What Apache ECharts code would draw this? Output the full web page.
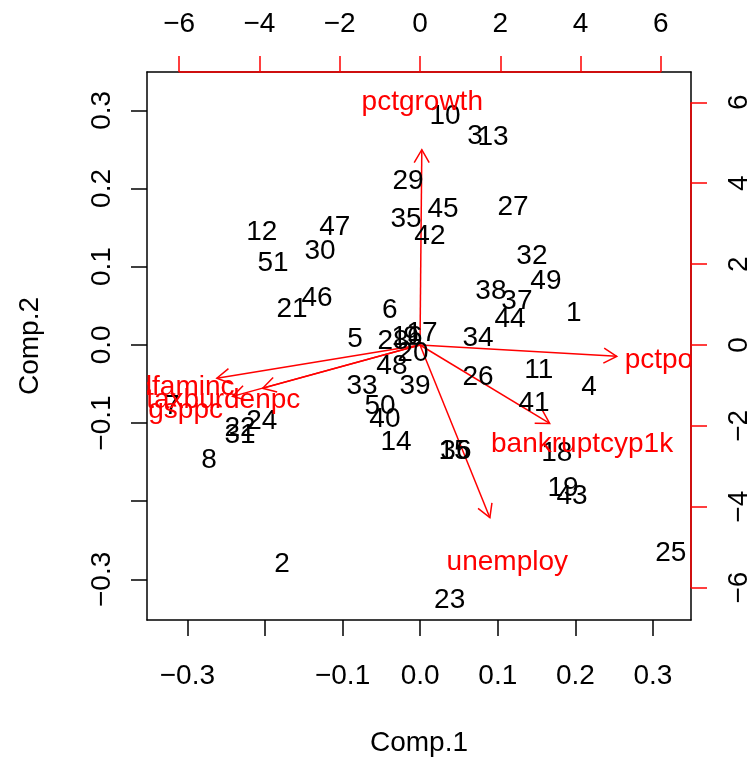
<!DOCTYPE html>
<html><head><meta charset="utf-8">
<script src="https://cdn.jsdelivr.net/npm/echarts@6/dist/echarts.min.js"></script>
<style>html,body{margin:0;padding:0;background:#fff}#c{width:753px;height:757px}</style>
</head><body><div id="c"></div>
<script>
// Observation (state) labels and their scores
const obsLabels = ['1','2','3','4','5','6','7','8','9','10','11','12','13','14','15','16','17','18','19','20','21','22','23','24','25','26','27','28','29','30','31','32','33','34','35','36','37','38','39','40','41','42','43','44','45','46','47','48','49','50','51'];
const comp1 = [0.198,-0.178,0.0706,0.2175,-0.084,-0.039,-0.320,-0.272,-0.0119,0.032,0.153,-0.204,0.0938,-0.031,0.0436,-0.017,0.0023,0.176,0.184,-0.0093,-0.165,-0.232,0.038,-0.204,0.323,0.0745,0.1196,-0.035,-0.0157,-0.129,-0.232,0.144,-0.075,0.0745,-0.0183,0.0461,0.1247,0.0912,-0.0067,-0.0454,0.1467,0.0126,0.1956,0.1157,0.0294,-0.133,-0.110,-0.0364,0.162,-0.0518,-0.1897];
const comp2 = [0.041,-0.279,0.268,-0.0527,0.0087,0.0458,-0.077,-0.147,0.0113,0.294,-0.031,0.1455,0.267,-0.124,-0.1355,0.0113,0.0164,-0.138,-0.182,-0.0092,0.047,-0.105,-0.326,-0.096,-0.265,-0.040,0.1775,0.0061,0.211,0.121,-0.114,0.115,-0.0512,0.010,0.162,-0.1355,0.0573,0.070,-0.0512,-0.0936,-0.0731,0.1404,-0.192,0.0343,0.175,0.0611,0.152,-0.0259,0.0829,-0.077,0.1059];
// Variable loadings (arrow tips, secondary scale)
const varNames = ['pctgrowth','pctpov','bankruptcyp1k','unemploy','medfaminc','taxburdenpc','gsppc'];
const loadX = [0.045,4.90,3.23,1.74,-5.06,-3.92,-4.67];
const loadY = [4.83,-0.28,-1.94,-4.27,-0.82,-1.07,-1.27];
// Axis ticks
const primaryTicks = [-0.3,-0.2,-0.1,0,0.1,0.2,0.3];
const primaryLabels = [-0.3,-0.1,0,0.1,0.2,0.3];
const secondaryTicks = [-6,-4,-2,0,2,4,6];
const primaryRange = [-0.352,0.349];
const secondaryRange = [-6.80,6.75];

const FONT = '"Liberation Sans", Arial, Helvetica, sans-serif';
const FS = 28;
const RED = '#FF0000';
const fmtP = v => (v < -1e-9 ? '\u2212' : '') + Math.abs(v).toFixed(1);
const fmtS = v => (v < 0 ? '\u2212' : '') + Math.abs(v);

const obsData = comp1.map((x, i) => [x, comp2[i], obsLabels[i]]);
const arrowData = loadX.map((x, i) => [x, loadY[i], varNames[i]]);
const varLabelData = loadX.map((x, i) => [x / 0.8, loadY[i] / 0.8, varNames[i]]);

const chart = echarts.init(document.getElementById('c'), null, {renderer: 'canvas'});

function textItem(color) {
  return function (params, api) {
    const p = api.coord([api.value(0), api.value(1)]);
    return {
      type: 'text', x: p[0], y: p[1] + 1,
      style: {
        text: api.value(2), fill: color,
        font: FS + 'px ' + FONT,
        align: 'center', verticalAlign: 'middle',
        textAlign: 'center', textVerticalAlign: 'middle'
      }
    };
  };
}

function arrowItem(params, api) {
  const o = api.coord([0, 0]);
  const t = api.coord([api.value(0), api.value(1)]);
  const ang = Math.atan2(t[1] - o[1], t[0] - o[0]);
  const L = 15, a = Math.PI / 6;
  const h1 = [t[0] - L * Math.cos(ang - a), t[1] - L * Math.sin(ang - a)];
  const h2 = [t[0] - L * Math.cos(ang + a), t[1] - L * Math.sin(ang + a)];
  const st = {stroke: RED, lineWidth: 1.5, fill: null};
  return {
    type: 'group', children: [
      {type: 'line', shape: {x1: o[0], y1: o[1], x2: t[0], y2: t[1]}, style: st},
      {type: 'polyline', shape: {points: [h1, t, h2]}, style: st}
    ]
  };
}

// red axis-line segments for secondary axes (span first..last tick)
function secAxisLines(params, api) {
  const cs = params.coordSys;
  const a = api.coord([secondaryTicks[0], secondaryTicks[0]]);
  const b = api.coord([secondaryTicks[secondaryTicks.length - 1], secondaryTicks[secondaryTicks.length - 1]]);
  const st = {stroke: RED, lineWidth: 1.5};
  return {
    type: 'group', children: [
      {type: 'line', shape: {x1: a[0], y1: cs.y, x2: b[0], y2: cs.y}, style: st},
      {type: 'line', shape: {x1: cs.x + cs.width, y1: a[1], x2: cs.x + cs.width, y2: b[1]}, style: st}
    ]
  };
}

const txt = {color: '#000', fontSize: FS, fontFamily: FONT};

chart.setOption({
  animation: false,
  backgroundColor: '#fff',
  grid: {left: 147, top: 72, width: 544, height: 548, containLabel: false, outerBoundsMode: 'none'},
  xAxis: [
    {
      type: 'value', position: 'bottom', min: primaryRange[0], max: primaryRange[1],
      splitLine: {show: false},
      axisLine: {show: true, onZero: false, lineStyle: {color: '#000', width: 1.5}},
      axisTick: {show: true, customValues: primaryTicks, length: 16, lineStyle: {color: '#000', width: 1.5}},
      axisLabel: Object.assign({customValues: primaryLabels, formatter: fmtP, margin: 42, hideOverlap: false}, txt),
      name: 'Comp.1', nameLocation: 'middle', nameGap: 109,
      nameTextStyle: txt
    },
    {
      type: 'value', position: 'top', min: secondaryRange[0], max: secondaryRange[1],
      splitLine: {show: false},
      axisLine: {show: true, onZero: false, lineStyle: {color: '#000', width: 1.5}},
      axisTick: {show: true, customValues: secondaryTicks, length: 16, lineStyle: {color: RED, width: 1.5}},
      axisLabel: Object.assign({customValues: secondaryTicks, formatter: fmtS, margin: 34, hideOverlap: false}, txt)
    }
  ],
  yAxis: [
    {
      type: 'value', position: 'left', min: primaryRange[0], max: primaryRange[1],
      splitLine: {show: false},
      axisLine: {show: true, onZero: false, lineStyle: {color: '#000', width: 1.5}},
      axisTick: {show: true, customValues: primaryTicks, length: 16, lineStyle: {color: '#000', width: 1.5}},
      axisLabel: Object.assign({customValues: primaryLabels, formatter: fmtP, margin: 31, rotate: 90, hideOverlap: false}, txt),
      name: 'Comp.2', nameLocation: 'middle', nameGap: 103,
      nameTextStyle: txt
    },
    {
      type: 'value', position: 'right', min: secondaryRange[0], max: secondaryRange[1],
      splitLine: {show: false},
      axisLine: {show: true, onZero: false, lineStyle: {color: '#000', width: 1.5}},
      axisTick: {show: true, customValues: secondaryTicks, length: 16, lineStyle: {color: RED, width: 1.5}},
      axisLabel: Object.assign({customValues: secondaryTicks, formatter: fmtS, margin: 34, rotate: 90, hideOverlap: false}, txt)
    }
  ],
  series: [
    {type: 'custom', name: 'scores', xAxisIndex: 0, yAxisIndex: 0, clip: true, data: obsData, renderItem: textItem('#000'), z: 3},
    {type: 'custom', name: 'arrows', xAxisIndex: 1, yAxisIndex: 1, clip: true, data: arrowData, renderItem: arrowItem, z: 2},
    {type: 'custom', name: 'varlabels', xAxisIndex: 1, yAxisIndex: 1, clip: true, data: varLabelData, renderItem: textItem(RED), z: 4},
    {type: 'custom', name: 'secaxis', xAxisIndex: 1, yAxisIndex: 1, clip: false, data: [[0, 0]], renderItem: secAxisLines, z: 5, silent: true}
  ]
});
</script></body></html>
